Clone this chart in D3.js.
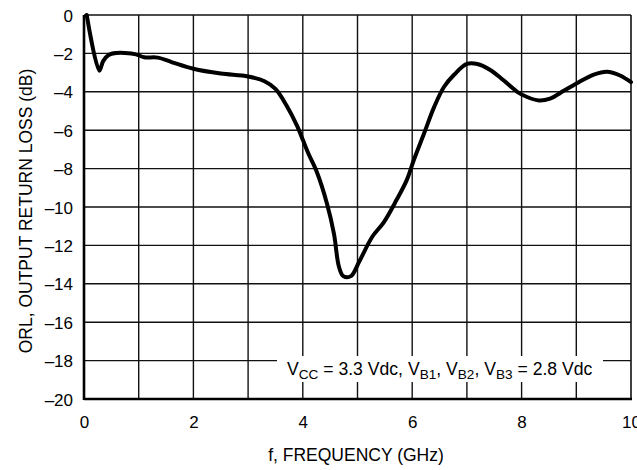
<!DOCTYPE html>
<html>
<head>
<meta charset="utf-8">
<script src="https://cdn.jsdelivr.net/npm/d3@7"></script>
<style>
  html, body { margin: 0; padding: 0; background: #fff; }
  svg { display: block; }
  text { font-family: "Liberation Sans", Arial, Helvetica, sans-serif; fill: #000; }
</style>
</head>
<body>
<svg id="chart" width="637" height="470"></svg>
<script>
// ---- data ----
const freqGHz = [0.05, 0.28, 0.35, 0.45, 0.6, 0.75, 0.95, 1.1, 1.35, 1.6, 2.0, 2.5, 3.0, 3.3, 3.5, 3.7, 3.9, 4.0, 4.1, 4.26, 4.44, 4.57, 4.66, 4.74, 4.88, 5.03, 5.27, 5.48, 5.72, 5.9, 6.03, 6.22, 6.4, 6.58, 6.77, 7.0, 7.19, 7.42, 7.67, 7.92, 8.1, 8.32, 8.52, 8.77, 9.01, 9.32, 9.56, 9.8, 10.0];
const orlDb   = [0, -2.9, -2.4, -2.08, -1.98, -1.98, -2.05, -2.2, -2.22, -2.45, -2.8, -3.05, -3.2, -3.45, -3.85, -4.7, -5.8, -6.5, -7.2, -8.2, -9.8, -11.4, -13.1, -13.6, -13.6, -12.85, -11.55, -10.8, -9.6, -8.6, -7.55, -6.15, -4.8, -3.75, -3.1, -2.55, -2.55, -2.85, -3.4, -4.0, -4.27, -4.45, -4.35, -3.95, -3.55, -3.1, -2.95, -3.15, -3.5];
const xTickValues = [0, 2, 4, 6, 8, 10];
const xGridValues = [1, 2, 3, 4, 5, 6, 7, 8, 9];
const yTickValues = [0, -2, -4, -6, -8, -10, -12, -14, -16, -18, -20];
const xTitle = "f, FREQUENCY (GHz)";
const yTitle = "ORL, OUTPUT RETURN LOSS (dB)";
const notePieces = [
  ["V", ""], ["CC", "sub"], [" = 3.3 Vdc, V", ""], ["B1", "sub"], [", V", ""], ["B2", "sub"], [", V", ""], ["B3", "sub"], [" = 2.8 Vdc", ""]
];

// ---- layout ----
const svg = d3.select("#chart");
const m = { left: 84, top: 15, right: 631, bottom: 399 };
const x = d3.scaleLinear().domain([0, 10]).range([m.left, m.right]);
const y = d3.scaleLinear().domain([-20, 0]).range([m.bottom, m.top]);

// grid
const grid = svg.append("g").attr("stroke", "#111").attr("stroke-width", 1.4);
grid.selectAll("line.v").data(xGridValues).join("line")
  .attr("x1", d => x(d)).attr("x2", d => x(d))
  .attr("y1", m.top).attr("y2", m.bottom);
grid.selectAll("line.h").data(yTickValues.filter(v => v !== 0 && v !== -20)).join("line")
  .attr("x1", m.left).attr("x2", m.right)
  .attr("y1", d => y(d)).attr("y2", d => y(d));

// frame: thin top/right
svg.append("line").attr("x1", m.left).attr("x2", m.right).attr("y1", m.top).attr("y2", m.top)
  .attr("stroke", "#111").attr("stroke-width", 1.4);
svg.append("line").attr("x1", m.right).attr("x2", m.right).attr("y1", m.top).attr("y2", m.bottom)
  .attr("stroke", "#111").attr("stroke-width", 1.6);

// annotation white box
svg.append("rect").attr("x", 277).attr("y", 356).attr("width", 326).attr("height", 26).attr("fill", "#fff");

// thick left/bottom axes
svg.append("line").attr("x1", m.left).attr("x2", m.left).attr("y1", m.top).attr("y2", m.bottom + 1)
  .attr("stroke", "#000").attr("stroke-width", 2.6);
svg.append("line").attr("x1", m.left).attr("x2", m.right + 1).attr("y1", m.bottom).attr("y2", m.bottom)
  .attr("stroke", "#000").attr("stroke-width", 2.6);

// curve
const line = d3.line()
  .x((d, i) => x(freqGHz[i]))
  .y(d => y(d))
  .curve(d3.curveCatmullRom.alpha(0.5));
svg.append("path").datum(orlDb)
  .attr("d", line)
  .attr("fill", "none").attr("stroke", "#000").attr("stroke-width", 4)
  .attr("stroke-linejoin", "round").attr("stroke-linecap", "round");

// axes with d3 (labels only)
const fmt = v => (v < 0 ? "\u2013" + Math.abs(v) : String(v));
const yAxis = d3.axisLeft(y).tickValues(yTickValues).tickSize(0).tickPadding(11).tickFormat(fmt);
const gy = svg.append("g").attr("transform", `translate(${m.left},0)`).call(yAxis);
gy.select(".domain").remove();
gy.selectAll("text").attr("font-size", 17).attr("font-family", null).attr("dy", "0.36em");

const xAxis = d3.axisBottom(x).tickValues(xTickValues).tickSize(0).tickPadding(17).tickFormat(fmt);
const gx = svg.append("g").attr("transform", `translate(0,${m.bottom})`).call(xAxis);
gx.select(".domain").remove();
gx.selectAll("text").attr("font-size", 17).attr("font-family", null);

// titles
svg.append("text").attr("x", 356).attr("y", 461).attr("text-anchor", "middle")
  .attr("font-size", 17.5).text(xTitle);
svg.append("text").attr("transform", "translate(32,211) rotate(-90)").attr("text-anchor", "middle")
  .attr("font-size", 17.5).text(yTitle);

// annotation
const note = svg.append("text").attr("x", 287).attr("y", 375).attr("font-size", 17.6);
note.selectAll("tspan").data(notePieces).join("tspan")
  .attr("font-size", d => d[1] === "sub" ? 13.6 : 17.6)
  .attr("dy", (d, i) => {
    const prevSub = i > 0 && notePieces[i - 1][1] === "sub";
    if (d[1] === "sub") return 4;
    return prevSub ? -4 : 0;
  })
  .text(d => d[0]);
</script>
</body>
</html>
